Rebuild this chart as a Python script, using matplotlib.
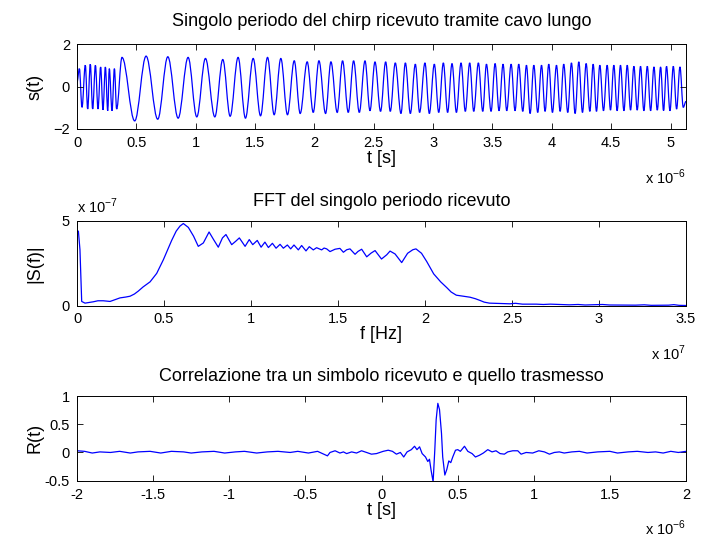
import matplotlib
matplotlib.use('Agg')
import matplotlib.pyplot as plt
from matplotlib.path import Path
from matplotlib.patches import PathPatch

plt.rcParams['font.family'] = ['Liberation Sans', 'DejaVu Sans']
plt.rcParams['font.size'] = 10

# segnale ricevuto: massimi/minimi (t in us)
t_sig = [0.000, 0.020, 0.042, 0.070, 0.090, 0.112, 0.132, 0.155, 0.177, 0.199,
         0.219, 0.239, 0.259, 0.272, 0.295, 0.315, 0.334, 0.379, 0.486, 0.582,
         0.680, 0.765, 0.852, 0.936, 1.009, 1.082, 1.161, 1.228, 1.290, 1.357,
         1.419, 1.484, 1.546, 1.605, 1.661, 1.717, 1.773, 1.830, 1.880, 1.939,
         1.990, 2.038, 2.094, 2.139, 2.192, 2.237, 2.285, 2.330, 2.378, 2.426,
         2.468, 2.510, 2.557, 2.600, 2.639, 2.681, 2.729, 2.766, 2.808, 2.850,
         2.886, 2.931, 2.968, 3.010, 3.047, 3.086, 3.122, 3.159, 3.196, 3.235,
         3.271, 3.308, 3.342, 3.381, 3.418, 3.449, 3.488, 3.522, 3.555, 3.589,
         3.620, 3.657, 3.690, 3.721, 3.755, 3.786, 3.817, 3.848, 3.881, 3.913,
         3.943, 3.974, 4.005, 4.039, 4.070, 4.100, 4.134, 4.165, 4.196, 4.227,
         4.258, 4.289, 4.320, 4.348, 4.376, 4.404, 4.435, 4.466, 4.494, 4.522,
         4.550, 4.578, 4.607, 4.635, 4.663, 4.691, 4.719, 4.747, 4.775, 4.804,
         4.832, 4.860, 4.888, 4.916, 4.941, 4.966, 4.995, 5.023, 5.051, 5.079,
         5.107, 5.130]
s_sig = [0.20, 0.84, -0.98, 1.00, -1.06, 1.05, -1.06, 1.00, -1.06, 0.92,
         -1.10, 0.92, -1.14, 0.84, -1.14, 0.84, -1.06, 1.37, -1.62, 1.43,
         -1.54, 1.40, -1.49, 1.37, -1.43, 1.32, -1.43, 1.27, -1.40, 1.37,
         -1.49, 1.32, -1.38, 1.37, -1.33, 1.32, -1.33, 1.21, -1.27, 1.16,
         -1.22, 1.21, -1.27, 1.16, -1.22, 1.21, -1.22, 1.21, -1.22, 1.21,
         -1.14, 1.16, -1.17, 1.16, -1.17, 1.11, -1.27, 1.11, -1.27, 1.05,
         -1.22, 1.11, -1.27, 1.05, -1.22, 1.11, -1.22, 1.08, -1.22, 1.11,
         -1.17, 1.11, -1.17, 1.11, -1.17, 1.05, -1.17, 1.08, -1.14, 1.05,
         -1.14, 1.05, -1.14, 1.05, -1.17, 1.00, -1.27, 1.00, -1.22, 1.00,
         -1.17, 1.05, -1.22, 1.00, -1.17, 1.05, -1.22, 1.11, -1.27, 1.16,
         -1.22, 1.08, -1.17, 1.05, -1.17, 1.00, -1.14, 1.00, -1.11, 1.00,
         -1.14, 1.00, -1.14, 1.00, -1.11, 0.95, -1.11, 0.95, -1.14, 0.95,
         -1.14, 0.92, -1.11, 0.92, -1.14, 0.95, -1.14, 0.95, -1.06, 0.92,
         -0.98, -0.70]

# modulo della FFT (f in 1e7 Hz, |S| in 1e-7)
f_fft = [0.0, 0.008, 0.017, 0.027, 0.046, 0.07, 0.094, 0.12, 0.151, 0.19,
         0.22, 0.247, 0.28, 0.305, 0.33, 0.352, 0.38, 0.40, 0.42, 0.458,
         0.496, 0.544, 0.57, 0.592, 0.611, 0.64, 0.67, 0.697, 0.726, 0.759,
         0.785, 0.812, 0.836, 0.856, 0.889, 0.912, 0.933, 0.966, 0.990, 1.010,
         1.036, 1.058, 1.080, 1.100, 1.123, 1.144, 1.167, 1.186, 1.209, 1.228,
         1.247, 1.272, 1.291, 1.316, 1.335, 1.358, 1.377, 1.406, 1.42, 1.435,
         1.454, 1.483, 1.511, 1.531, 1.55, 1.569, 1.598, 1.615, 1.636, 1.665,
         1.69, 1.713, 1.75, 1.78, 1.799, 1.828, 1.866, 1.90, 1.93, 1.948,
         1.98, 2.01, 2.05, 2.09, 2.125, 2.15, 2.18, 2.22, 2.259, 2.29,
         2.316, 2.34, 2.37, 2.43, 2.488, 2.52, 2.56, 2.64, 2.68, 2.72,
         2.83, 2.88, 2.92, 3.02, 3.06, 3.21, 3.26, 3.30, 3.40, 3.43,
         3.46, 3.5]
S_fft = [4.4, 4.4, 3.3, 0.24, 0.14, 0.18, 0.22, 0.28, 0.28, 0.24,
         0.35, 0.45, 0.50, 0.55, 0.68, 0.85, 1.10, 1.25, 1.40, 1.90,
         2.70, 3.85, 4.40, 4.70, 4.85, 4.62, 4.10, 3.50, 3.70, 4.35,
         3.90, 3.45, 4.00, 4.20, 3.60, 3.80, 4.00, 3.50, 3.90, 3.60,
         3.85, 3.45, 3.75, 3.43, 3.68, 3.39, 3.62, 3.39, 3.58, 3.35,
         3.58, 3.29, 3.55, 3.23, 3.48, 3.29, 3.42, 3.29, 3.40, 3.35,
         3.19, 3.33, 3.38, 3.15, 3.30, 3.35, 3.03, 3.20, 3.33, 2.88,
         3.10, 3.25, 2.75, 3.00, 3.22, 3.05, 2.54, 3.09, 3.30, 3.35,
         3.09, 2.60, 1.87, 1.40, 1.06, 0.80, 0.61, 0.55, 0.49, 0.40,
         0.30, 0.20, 0.14, 0.12, 0.10, 0.13, 0.08, 0.08, 0.06, 0.08,
         0.04, 0.06, 0.03, 0.06, 0.03, 0.02, 0.04, 0.01, 0.02, 0.05,
         0.01, 0.0]

# correlazione (t in us)
t_corr = [-2.0, -1.95, -1.9, -1.85, -1.78, -1.72, -1.65, -1.6, -1.52, -1.45,
          -1.38, -1.3, -1.25, -1.18, -1.1, -1.03, -0.96, -0.9, -0.82, -0.75,
          -0.68, -0.6, -0.55, -0.48, -0.42, -0.355, -0.338, -0.305, -0.273, -0.25,
          -0.229, -0.196, -0.164, -0.131, -0.098, -0.066, -0.033, 0.011, 0.044, 0.072,
          0.098, 0.124, 0.146, 0.168, 0.196, 0.217, 0.233, 0.250, 0.267, 0.289,
          0.304, 0.315, 0.326, 0.339, 0.350, 0.359, 0.370, 0.381, 0.394, 0.402,
          0.416, 0.429, 0.442, 0.455, 0.468, 0.486, 0.501, 0.518, 0.545, 0.567,
          0.595, 0.617, 0.643, 0.669, 0.698, 0.726, 0.752, 0.779, 0.807, 0.829,
          0.862, 0.895, 0.917, 0.950, 0.993, 1.033, 1.070, 1.103, 1.135, 1.168,
          1.2, 1.25, 1.3, 1.35, 1.42, 1.5, 1.55, 1.62, 1.68, 1.75,
          1.8, 1.85, 1.9, 1.95, 2.0]
R_corr = [0.03, 0.02, -0.01, 0.01, 0.0, 0.02, -0.01, 0.01, 0.02, -0.01,
          0.02, 0.01, -0.01, 0.01, 0.02, -0.01, 0.01, 0.02, -0.01, 0.01,
          0.02, 0.0, 0.02, -0.01, 0.02, -0.06, 0.0, 0.03, -0.01, 0.01,
          -0.02, 0.01, -0.01, 0.03, 0.0, -0.03, -0.02, 0.02, 0.04, 0.02,
          -0.03, 0.0, -0.08, 0.01, 0.05, 0.11, 0.05, 0.10, -0.02, -0.08,
          -0.16, -0.12, -0.32, -0.52, 0.04, 0.58, 0.87, 0.76, 0.34, -0.08,
          -0.40, -0.30, -0.15, -0.18, -0.08, 0.04, 0.05, 0.02, 0.11, 0.02,
          -0.02, -0.08, -0.05, -0.01, 0.05, 0.01, 0.03, -0.02, -0.03, 0.01,
          0.03, 0.03, -0.03, 0.0, -0.01, 0.03, 0.01, -0.03, 0.0, 0.01,
          -0.01, 0.01, 0.02, -0.01, 0.01, 0.02, -0.01, 0.01, 0.02, 0.0,
          0.01, -0.01, 0.02, 0.0, 0.02]

fig = plt.figure(figsize=(7.01, 5.37), dpi=100)
W, H = 701.0, 537.0
LW = 0.9


def make_ax(top, bottom):
    ax = fig.add_axes([77 / W, 1 - bottom / H, 609 / W, (bottom - top) / H])
    ax.tick_params(direction='in', top=True, right=True, length=4, width=0.6,
                   pad=5, labelsize=10.5)
    for sp in ax.spines.values():
        sp.set_linewidth(0.7)
    return ax


def exponent(ax, x, y, txt, ha='left'):
    ax.text(x, y, 'x 10$^{\\mathregular{' + txt + '}}$', transform=ax.transAxes,
            ha=ha, va='top', fontsize=10.5)


# 1) segnale: curva liscia tra i massimi e minimi letti (tangente orizzontale)
ax1 = make_ax(44, 129)
verts = [(t_sig[0], s_sig[0])]
codes = [Path.MOVETO]
k = 0.364
for i in range(1, len(t_sig)):
    d = t_sig[i] - t_sig[i - 1]
    verts += [(t_sig[i - 1] + k * d, s_sig[i - 1]), (t_sig[i] - k * d, s_sig[i]),
              (t_sig[i], s_sig[i])]
    codes += [Path.CURVE4] * 3
ax1.add_patch(PathPatch(Path(verts, codes), fill=False, edgecolor='b', lw=LW))
ax1.set_xlim(0, 5.13)
ax1.set_ylim(-2, 2)
ax1.set_xticks([0, 0.5, 1, 1.5, 2, 2.5, 3, 3.5, 4, 4.5, 5])
ax1.set_xticklabels(['0', '0.5', '1', '1.5', '2', '2.5', '3', '3.5', '4', '4.5', '5'])
ax1.set_yticks([-2, 0, 2])
ax1.set_title('Singolo periodo del chirp ricevuto tramite cavo lungo', fontsize=13, pad=13)
ax1.set_xlabel('t [s]', fontsize=13, labelpad=0)
ax1.set_ylabel('s(t)', fontsize=13)
exponent(ax1, 1.0, -0.45, '-6', ha='right')

# 2) FFT
ax2 = make_ax(221, 305.5)
ax2.plot(f_fft, S_fft, color='b', lw=LW)
ax2.set_xlim(0, 3.5)
ax2.set_ylim(0, 5)
ax2.set_xticks([0, 0.5, 1, 1.5, 2, 2.5, 3, 3.5])
ax2.set_xticklabels(['0', '0.5', '1', '1.5', '2', '2.5', '3', '3.5'])
ax2.set_yticks([0, 5])
ax2.set_title('FFT del singolo periodo ricevuto', fontsize=13, pad=11)
ax2.set_xlabel('f [Hz]', fontsize=13, labelpad=0)
ax2.set_ylabel('|S(f)|', fontsize=13)
exponent(ax2, 0.0, 1.29, '-7')
exponent(ax2, 1.0, -0.45, '7', ha='right')

# 3) correlazione
ax3 = make_ax(396, 480.7)
ax3.plot(t_corr, R_corr, color='b', lw=LW)
ax3.set_xlim(-2, 2)
ax3.set_ylim(-0.5, 1)
ax3.set_xticks([-2, -1.5, -1, -0.5, 0, 0.5, 1, 1.5, 2])
ax3.set_xticklabels(['-2', '-1.5', '-1', '-0.5', '0', '0.5', '1', '1.5', '2'])
ax3.set_yticks([-0.5, 0, 0.5, 1])
ax3.set_yticklabels(['-0.5', '0', '0.5', '1'])
ax3.set_title('Correlazione tra un simbolo ricevuto e quello trasmesso', fontsize=13, pad=10.5)
ax3.set_xlabel('t [s]', fontsize=13, labelpad=0)
ax3.set_ylabel('R(t)', fontsize=13)
exponent(ax3, 1.0, -0.45, '-6', ha='right')

for ax in (ax1, ax2, ax3):
    ax.yaxis.set_label_coords(-0.055, 0.5)

fig.savefig('out.png', dpi=100)
